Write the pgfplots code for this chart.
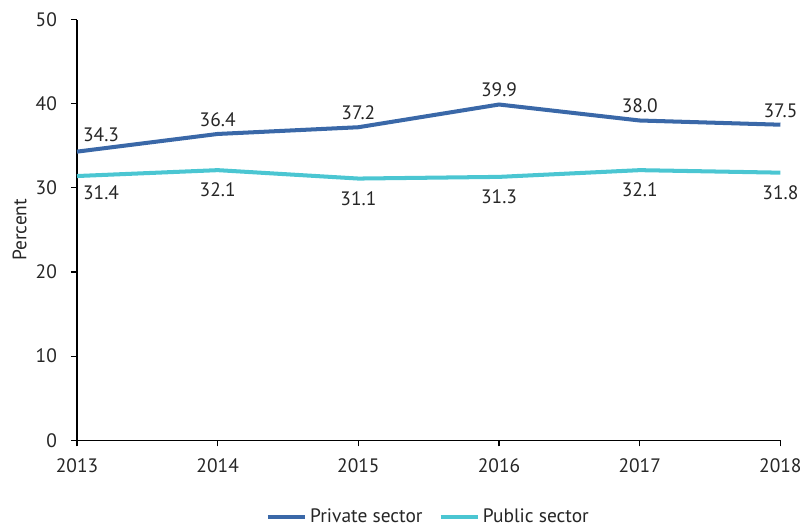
\documentclass[border=0pt]{standalone}
\usepackage{pgfplots}
\pgfplotsset{compat=1.18}
\usepackage{fontspec}
\setmainfont{PT Sans}
\definecolor{privblue}{HTML}{3A68A8}
\definecolor{pubcyan}{HTML}{4BC6D2}

\begin{document}
\begin{tikzpicture}[x=1pt,y=1pt]
\begin{axis}[
    scale only axis,
    width=525pt, height=314pt,
    xmin=2013, xmax=2018, ymin=0, ymax=50,
    xtick={2013,2014,...,2018},
    ytick={0,10,...,50},
    xticklabel style={/pgf/number format/1000 sep={}, yshift=-6pt},
    yticklabel style={xshift=-7pt},
    /pgf/number format/assume math mode=true,
    axis lines=left,
    axis line style={line width=0.9pt, -},
    tick style={line width=0.9pt, black},
    tick align=outside,
    major tick length=4.5pt,
    tick label style={font=\fontsize{14.5}{16}\selectfont, text=black!85},
    ylabel={Percent},
    ylabel style={font=\fontsize{14.5}{16}\selectfont, text=black!85},
    clip=false,
    legend style={draw=none, at={(0.5,-0.15)}, anchor=north, legend columns=2,
        font=\fontsize{14.5}{16}\selectfont, text=black!85,
        /tikz/every even column/.append style={column sep=10pt}},
    legend image code/.code={\draw[#1, line width=3pt] (0pt,0pt) -- (28pt,0pt);},
    every node near coord/.append style={font=\fontsize{14.5}{16}\selectfont, text=black!85},
    point meta=explicit symbolic,
]
% lines
\addplot[privblue, line width=3pt, no markers]
    coordinates {(2013,34.3) (2014,36.4) (2015,37.2) (2016,39.9) (2017,38.0) (2018,37.5)};
\addlegendentry{Private sector}
\addplot[pubcyan, line width=3pt, no markers]
    coordinates {(2013,31.4) (2014,32.1) (2015,31.1) (2016,31.3) (2017,32.1) (2018,31.8)};
\addlegendentry{Public sector}
% value labels
\addplot[draw=none, forget plot, nodes near coords,
    nodes near coords style={anchor=south, yshift=2pt}]
    coordinates {(2014,36.4)[36.4] (2015,37.2)[37.2] (2016,39.9)[39.9] (2017,38.0)[38.0] (2018,37.5)[37.5]};
\addplot[draw=none, forget plot, nodes near coords,
    nodes near coords style={anchor=south west, xshift=1pt, yshift=4pt}]
    coordinates {(2013,34.3)[34.3]};
\addplot[draw=none, forget plot, nodes near coords,
    nodes near coords style={anchor=north, yshift=-6pt}]
    coordinates {(2014,32.1)[32.1] (2015,31.1)[31.1] (2016,31.3)[31.3] (2017,32.1)[32.1] (2018,31.8)[31.8]};
\addplot[draw=none, forget plot, nodes near coords,
    nodes near coords style={anchor=north west, xshift=1pt, yshift=-4pt}]
    coordinates {(2013,31.4)[31.4]};
\end{axis}
% small margins left and top, as in the reference
\path (current bounding box.north west) ++(-6pt,6pt);
\end{tikzpicture}
\end{document}
